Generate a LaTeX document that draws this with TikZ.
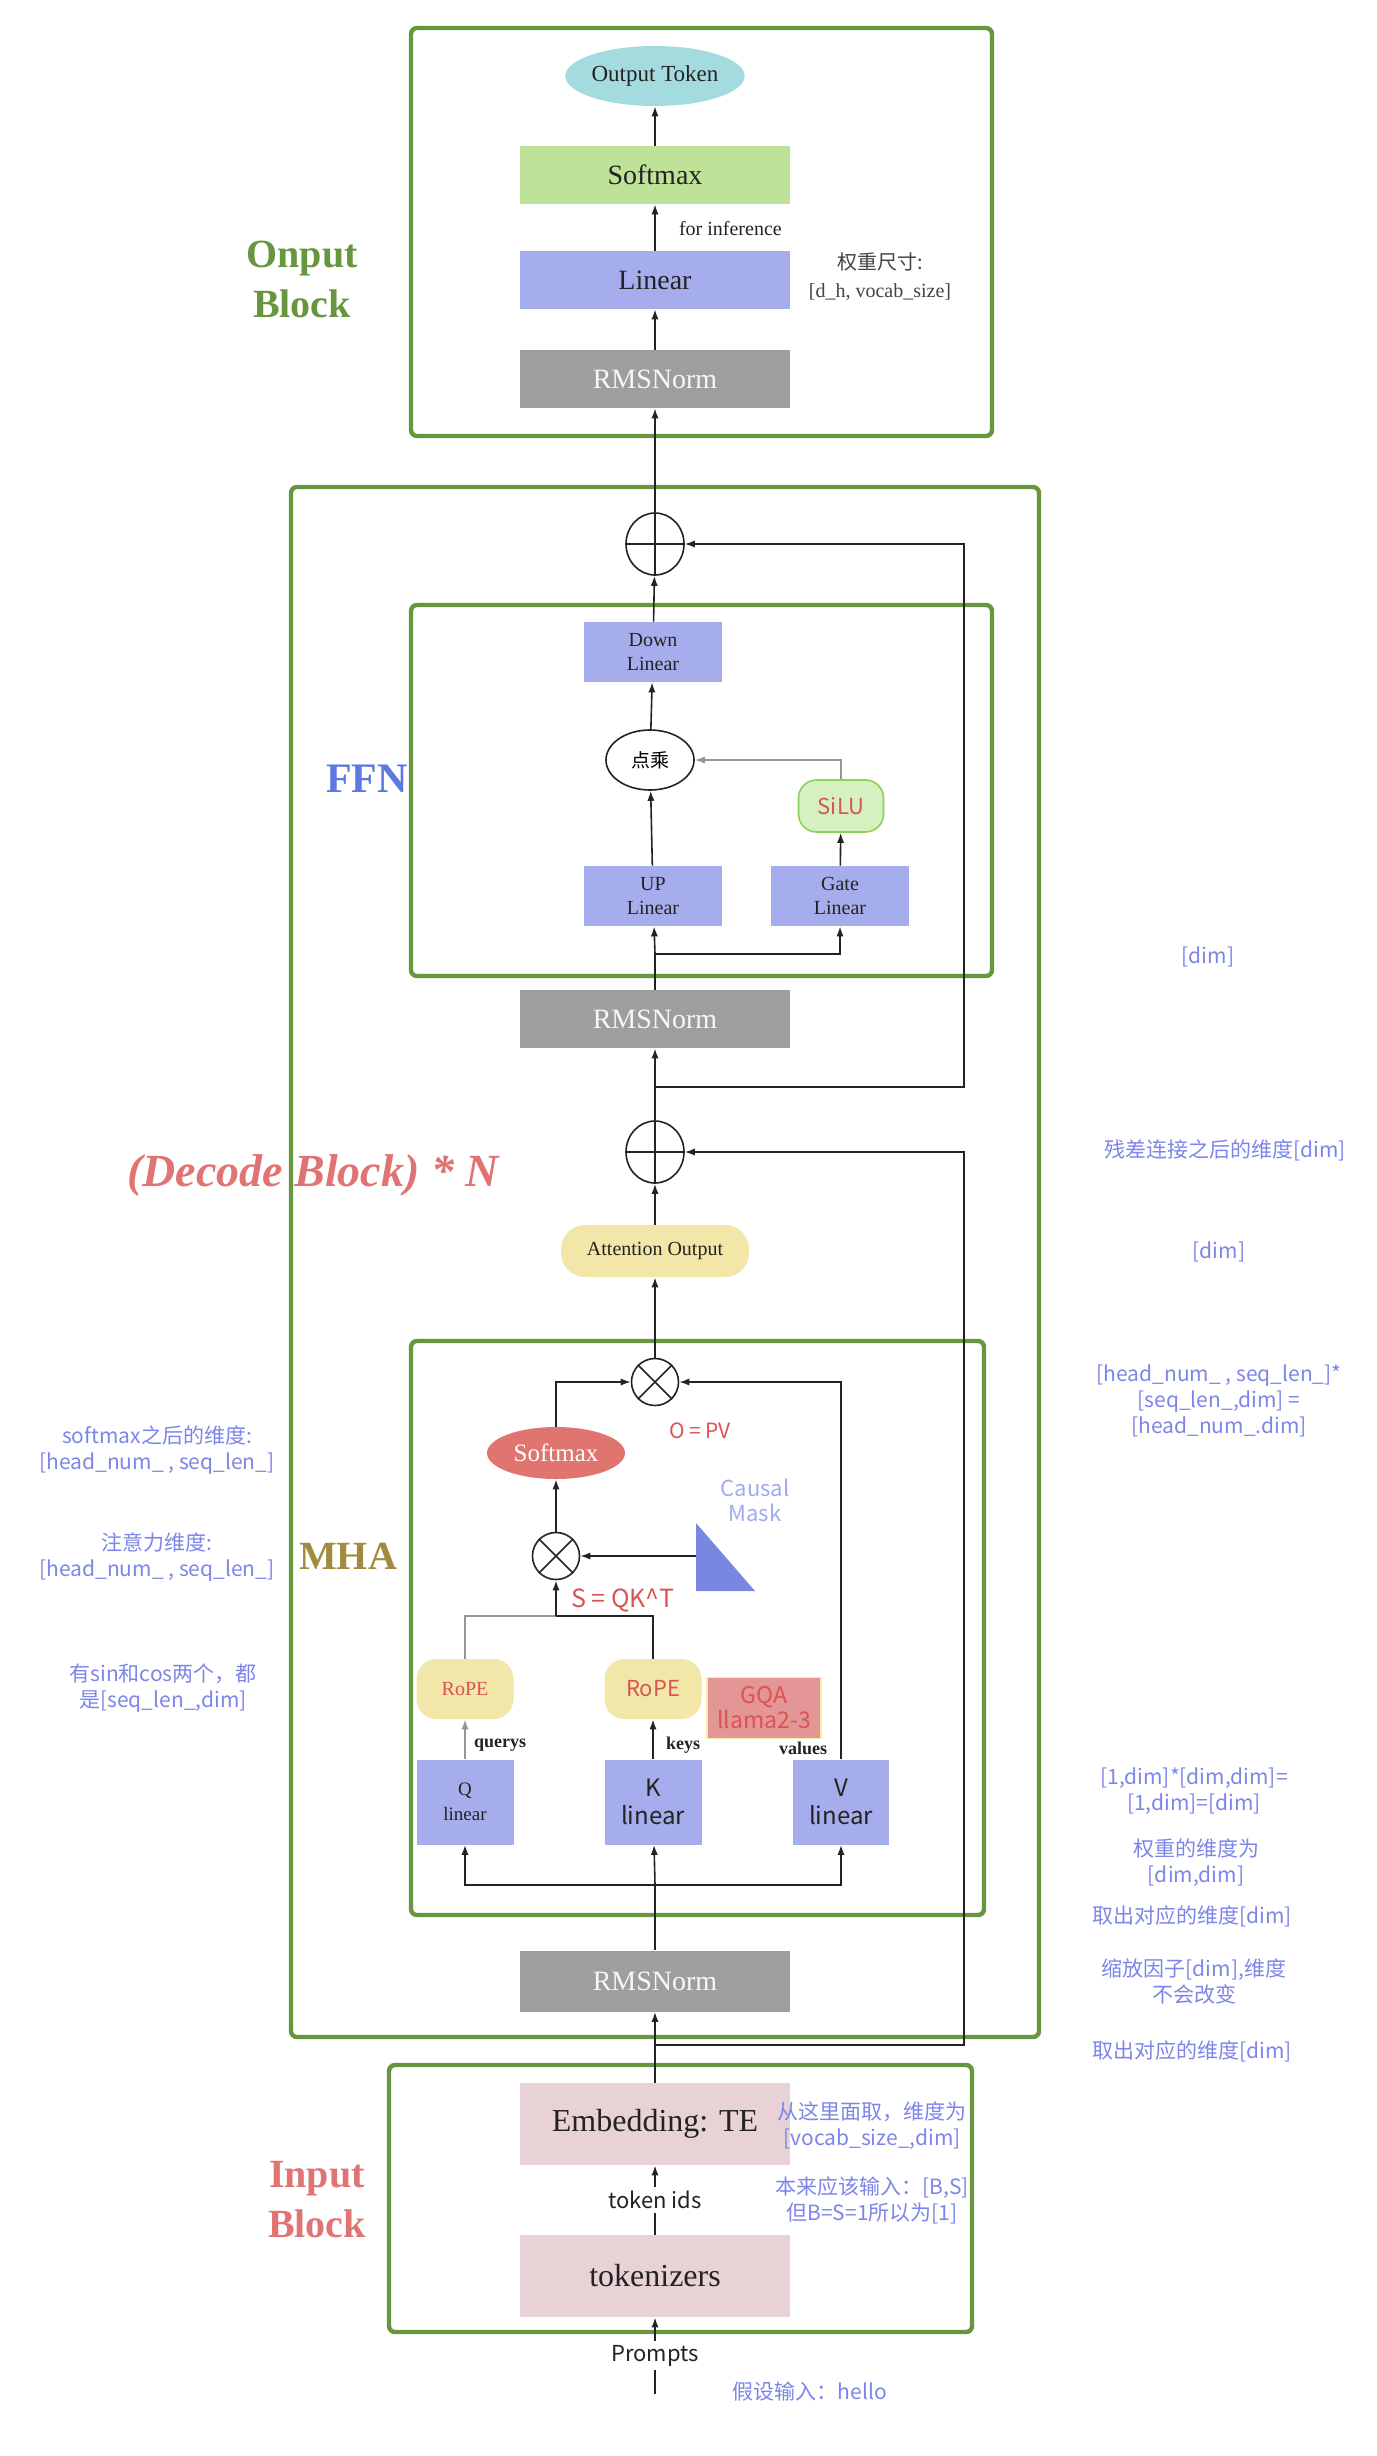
\documentclass[tikz,border=0pt]{standalone}
\usepackage{fontspec}
\setmainfont{Liberation Serif}
\newfontfamily\cjk{Noto Sans CJK SC}
\usetikzlibrary{arrows.meta,shapes.geometric}

\definecolor{frameGreen}{RGB}{104,150,62}
\definecolor{darkText}{RGB}{35,35,35}
\definecolor{tokCyan}{RGB}{164,219,222}
\definecolor{softGreen}{RGB}{190,226,152}
\definecolor{linBlue}{RGB}{166,173,236}
\definecolor{normGray}{RGB}{158,158,158}
\definecolor{attYellow}{RGB}{242,230,168}
\definecolor{smaxRed}{RGB}{224,117,112}
\definecolor{maskBlue}{RGB}{122,135,226}
\definecolor{causalBlue}{RGB}{160,170,240}
\definecolor{gqaRed}{RGB}{228,150,150}
\definecolor{gqaEdge}{RGB}{248,236,170}
\definecolor{embPink}{RGB}{232,210,214}
\definecolor{noteBlue}{RGB}{124,134,232}
\definecolor{redText}{RGB}{218,84,84}
\definecolor{siluFill}{RGB}{214,240,192}
\definecolor{siluEdge}{RGB}{140,208,84}
\definecolor{ffnBlue}{RGB}{92,120,226}
\definecolor{mhaGold}{RGB}{160,140,62}
\definecolor{decRed}{RGB}{224,116,116}
\definecolor{wireGray}{RGB}{150,150,150}

\begin{document}
\begin{tikzpicture}[x=0.5pt, y=-0.5pt,
    blockframe/.style={draw=frameGreen, line width=2.2pt, rounded corners=3pt},
    blk/.style={minimum width=135pt, minimum height=29pt, inner sep=0pt},
    norm/.style={blk, fill=normGray, text=white!94!gray, font=\fontsize{14}{16}\selectfont},
    lin/.style={fill=linBlue, inner sep=0pt, align=center, text=darkText},
    rope/.style={rounded corners=10pt, fill=attYellow, text=redText, minimum width=48.5pt, minimum height=30pt, inner sep=0pt},
    emb/.style={blk, fill=embPink, minimum height=41pt, text=darkText, font=\fontsize{16}{18}\selectfont},
    addop/.style={ellipse, draw=darkText, line width=0.8pt, minimum width=29pt, minimum height=31pt, inner sep=0pt},
    mulop/.style={circle, draw=darkText, line width=0.8pt, minimum size=23.5pt, inner sep=0pt},
    wire/.style={line width=0.8pt, draw=darkText},
    conn/.style={wire, -{Latex[length=5pt,width=3.6pt]}},
    dimnote/.style={text=noteBlue, align=center, font=\cjk\fontsize{10.5}{13}\selectfont},
    flabel/.style={align=center, font=\bfseries\fontsize{20}{25}\selectfont}]

  % Canvas
  \fill[white] (0,0) rectangle (1376,2456);
  \useasboundingbox (0,0) rectangle (1376,2456);

  % Frames
  \draw[blockframe] (411,28) rectangle (992,436);
  \draw[blockframe] (291,487) rectangle (1039,2037);
  \draw[blockframe] (411,605) rectangle (992,976);
  \draw[blockframe] (411,1341) rectangle (984,1915);
  \draw[blockframe] (389,2065) rectangle (972,2332);

  % Frame labels
  \node[flabel, text=frameGreen] (lblOut) at (302,279) {Onput\\Block};
  \node[flabel, text=ffnBlue, font=\bfseries\fontsize{21}{25}\selectfont] (lblFfn) at (367,779) {FFN};
  \node[text=decRed, font=\bfseries\itshape\fontsize{23}{26}\selectfont] (lblDec) at (313,1175) {(Decode Block) * N};
  \node[flabel, text=mhaGold] (lblMha) at (348,1556) {MHA};
  \node[flabel, text=decRed] (lblIn) at (317,2200) {Input\\Block};

  % Output block
  \node[ellipse, fill=tokCyan, minimum width=85pt, minimum height=30pt, inner sep=0pt, text=darkText, font=\fontsize{11.5}{13}\selectfont] (outTok) at (655,76) {Output Token};
  \node[blk, fill=softGreen, text=darkText, font=\fontsize{14}{16}\selectfont] (smaxOut) at (655,175) {Softmax};
  \node[blk, fill=linBlue, text=darkText, font=\fontsize{14}{16}\selectfont] (linOut) at (655,280) {Linear};
  \node[norm] (normOut) at (655,379) {RMSNorm};
  \node[anchor=west, text=darkText, font=\fontsize{10}{12}\selectfont] (infer) at (672,229) {for inference};
  \node[align=center, text=darkText!85, font=\fontsize{10}{14}\selectfont] (wShape) at (880,277) {{\cjk 权重尺寸:}\\{[}d\_h, vocab\_size{]}};

  \draw[conn] (normOut) -- (linOut);
  \draw[conn] (linOut) -- (smaxOut);
  \draw[conn] (smaxOut) -- (outTok);

  % FFN part
  \node[addop] (addF) at (655,544) {};
  \draw[wire] (addF.north) -- (addF.south) (addF.west) -- (addF.east);
  \node[lin, minimum width=69pt, minimum height=30pt, font=\fontsize{10}{12}\selectfont] (down) at (653,652) {Down\\Linear};
  \node[ellipse, draw=darkText, line width=0.8pt, minimum width=44pt, minimum height=30pt, inner sep=0pt, font=\cjk\fontsize{9.5}{11}\selectfont] (dot) at (650,760) {点乘};
  \node[rounded corners=9pt, draw=siluEdge, fill=siluFill, line width=0.8pt, minimum width=42.5pt, minimum height=26pt, text=redText, font=\cjk\fontsize{11}{13}\selectfont] (silu) at (841,806) {SiLU};
  \node[lin, minimum width=69pt, minimum height=30pt, font=\fontsize{10}{12}\selectfont] (up) at (653,896) {UP\\Linear};
  \node[lin, minimum width=69pt, minimum height=30pt, font=\fontsize{10}{12}\selectfont] (gate) at (840,896) {Gate\\Linear};
  \node[norm] (normF) at (655,1019) {RMSNorm};
  \coordinate (fsplit) at (655,954);

  \draw[conn] (down) -- (addF);
  \draw[conn] (dot) -- (down);
  \draw[conn] (up) -- (dot);
  \draw[conn, draw=wireGray] (silu.north) |- (dot.east);
  \draw[conn] (gate) -- (silu);
  \draw[wire] (normF) -- (fsplit);
  \draw[conn] (fsplit) -- (up);
  \draw[conn] (fsplit) -| (gate);

  % residual connections
  \node[addop] (addA) at (655,1152) {};
  \draw[wire] (addA.north) -- (addA.south) (addA.west) -- (addA.east);
  \coordinate (r1) at (655,1087);
  \coordinate (r1c) at (964,1087);
  \draw[conn] (r1) -- (r1c) |- (addF.east);
  \coordinate (r2) at (655,2045);
  \coordinate (r2c) at (964,2045);
  \draw[conn] (r2) -- (r2c) |- (addA.east);
  \draw[conn] (addF) -- (normOut);
  \draw[conn] (addA) -- (normF);

  \node[rounded corners=12pt, fill=attYellow, minimum width=94pt, minimum height=26pt, text=darkText, font=\fontsize{10}{12}\selectfont] (attOut) at (655,1251) {Attention Output};
  \draw[conn] (attOut) -- (addA);

  % MHA part
  \node[mulop] (mulO) at (655,1382) {};
  \draw[wire] (mulO.north west) -- (mulO.south east) (mulO.north east) -- (mulO.south west);
  \node[text=redText, font=\cjk\fontsize{10.5}{12}\selectfont] (opv) at (700,1431) {O = PV};
  \node[ellipse, fill=smaxRed, text=white, minimum width=69pt, minimum height=26pt, inner sep=0pt, font=\fontsize{12.5}{14}\selectfont] (smax) at (556,1453) {Softmax};
  \node[mulop] (mulS) at (556,1556) {};
  \draw[wire] (mulS.north west) -- (mulS.south east) (mulS.north east) -- (mulS.south west);
  \fill[maskBlue] (696,1523) -- (696,1591) -- (755,1591) -- cycle;
  \coordinate (maskL) at (696,1556);
  \node[text=causalBlue, align=center, font=\cjk\fontsize{11}{12.5}\selectfont] (causal) at (755,1500) {Causal\\Mask};
  \node[anchor=west, text=redText, font=\cjk\fontsize{12.5}{14}\selectfont] (sqk) at (564,1600) {S = QK\textasciicircum T};
  \coordinate (qk) at (556,1616);

  \node[rope, font=\fontsize{10}{12}\selectfont] (qrope) at (465,1689) {RoPE};
  \node[rope, font=\cjk\fontsize{11}{13}\selectfont] (krope) at (653,1689) {RoPE};
  \node[fill=gqaRed, draw=gqaEdge, line width=0.8pt, minimum width=57pt, minimum height=30.5pt, inner sep=0pt, align=center, text=redText, font=\cjk\fontsize{11.5}{12.5}\selectfont] (gqa) at (764,1708) {GQA\\llama2-3};
  \node[text=darkText, font=\bfseries\fontsize{9}{11}\selectfont] (qlab) at (500,1745) {querys};
  \node[text=darkText, font=\bfseries\fontsize{9}{11}\selectfont] (klab) at (683,1745) {keys};
  \node[text=darkText, font=\bfseries\fontsize{9}{11}\selectfont] (vlab) at (803,1748) {values};
  \node[lin, minimum width=48.5pt, minimum height=42.5pt, font=\fontsize{9.5}{12.5}\selectfont] (qlin) at (465,1802) {Q\\linear};
  \node[lin, minimum width=48.5pt, minimum height=42.5pt, font=\cjk\fontsize{12}{14}\selectfont] (klin) at (653,1802) {K\\linear};
  \node[lin, minimum width=48pt, minimum height=42.5pt, font=\cjk\fontsize{12}{14}\selectfont] (vlin) at (841,1802) {V\\linear};
  \coordinate (bus) at (655,1885);
  \node[norm, minimum height=30.5pt] (normM) at (655,1981) {RMSNorm};

  \draw[conn] (mulO) -- (attOut);
  \draw[conn] (smax.north) |- (mulO.west);
  \draw[conn] (vlin.north) |- (mulO.east);
  \draw[conn] (mulS) -- (smax);
  \draw[conn] (maskL) -- (mulS.east);
  \draw[wire, draw=wireGray] (qrope.north) |- (qk);
  \draw[wire] (krope.north) |- (qk);
  \draw[conn, line width=1.2pt] (qk) -- (mulS.south);
  \draw[conn, draw=wireGray] (qlin) -- (qrope);
  \draw[conn] (klin) -- (krope);
  \draw[wire] (normM) -- (bus);
  \draw[conn] (bus) -- (klin);
  \draw[conn] (bus) -| (qlin.south);
  \draw[conn] (bus) -| (vlin.south);

  % Input block
  \node[emb] (emb) at (655,2124) {Embedding: TE};
  \node[emb] (tok) at (655,2276) {tokenizers};
  \coordinate (prompt) at (655,2394);
  \draw[conn] (emb) -- (normM);
  \draw[conn] (tok) -- node[fill=white, inner sep=2pt, text=darkText, font=\cjk\fontsize{11}{13}\selectfont] (tokIds) {token ids} (emb);
  \draw[conn] (prompt) -- node[fill=white, inner sep=2pt, text=darkText, font=\cjk\fontsize{11}{13}\selectfont] (prompts) {Prompts} (tok);

  % Dimension notes, right
  \node[dimnote] (n1) at (1208,957) {{[}dim{]}};
  \node[dimnote] (n2) at (1225,1150) {残差连接之后的维度[dim]};
  \node[dimnote] (n3) at (1219,1252) {{[}dim{]}};
  \node[dimnote] (n4) at (1219,1401) {{[}head\_num\_ , seq\_len\_]*\\{[}seq\_len\_,dim] =\\{[}head\_num\_.dim]};
  \node[dimnote] (n5) at (1194,1791) {{[}1,dim]*[dim,dim]=\\{[}1,dim]=[dim]};
  \node[dimnote] (n6) at (1196,1863) {权重的维度为\\{[}dim,dim]};
  \node[dimnote] (n7) at (1192,1916) {取出对应的维度[dim]};
  \node[dimnote] (n8) at (1194,1981) {缩放因子[dim],维度\\不会改变};
  \node[dimnote] (n9) at (1192,2051) {取出对应的维度[dim]};

  % Dimension notes, left
  \node[dimnote] (n10) at (157,1450) {softmax之后的维度:\\{[}head\_num\_ , seq\_len\_]};
  \node[dimnote] (n11) at (157,1557) {注意力维度:\\{[}head\_num\_ , seq\_len\_]};
  \node[dimnote] (n12) at (163,1688) {有sin和cos两个，都\\是[seq\_len\_,dim]};

  % Dimension notes, input
  \node[dimnote] (n13) at (872,2126) {从这里面取，维度为\\{[}vocab\_size\_,dim]};
  \node[dimnote] (n14) at (872,2200) {本来应该输入：[B,S]\\但B=S=1所以为[1]};
  \node[dimnote] (n15) at (810,2391) {假设输入：hello};
\end{tikzpicture}
\end{document}
